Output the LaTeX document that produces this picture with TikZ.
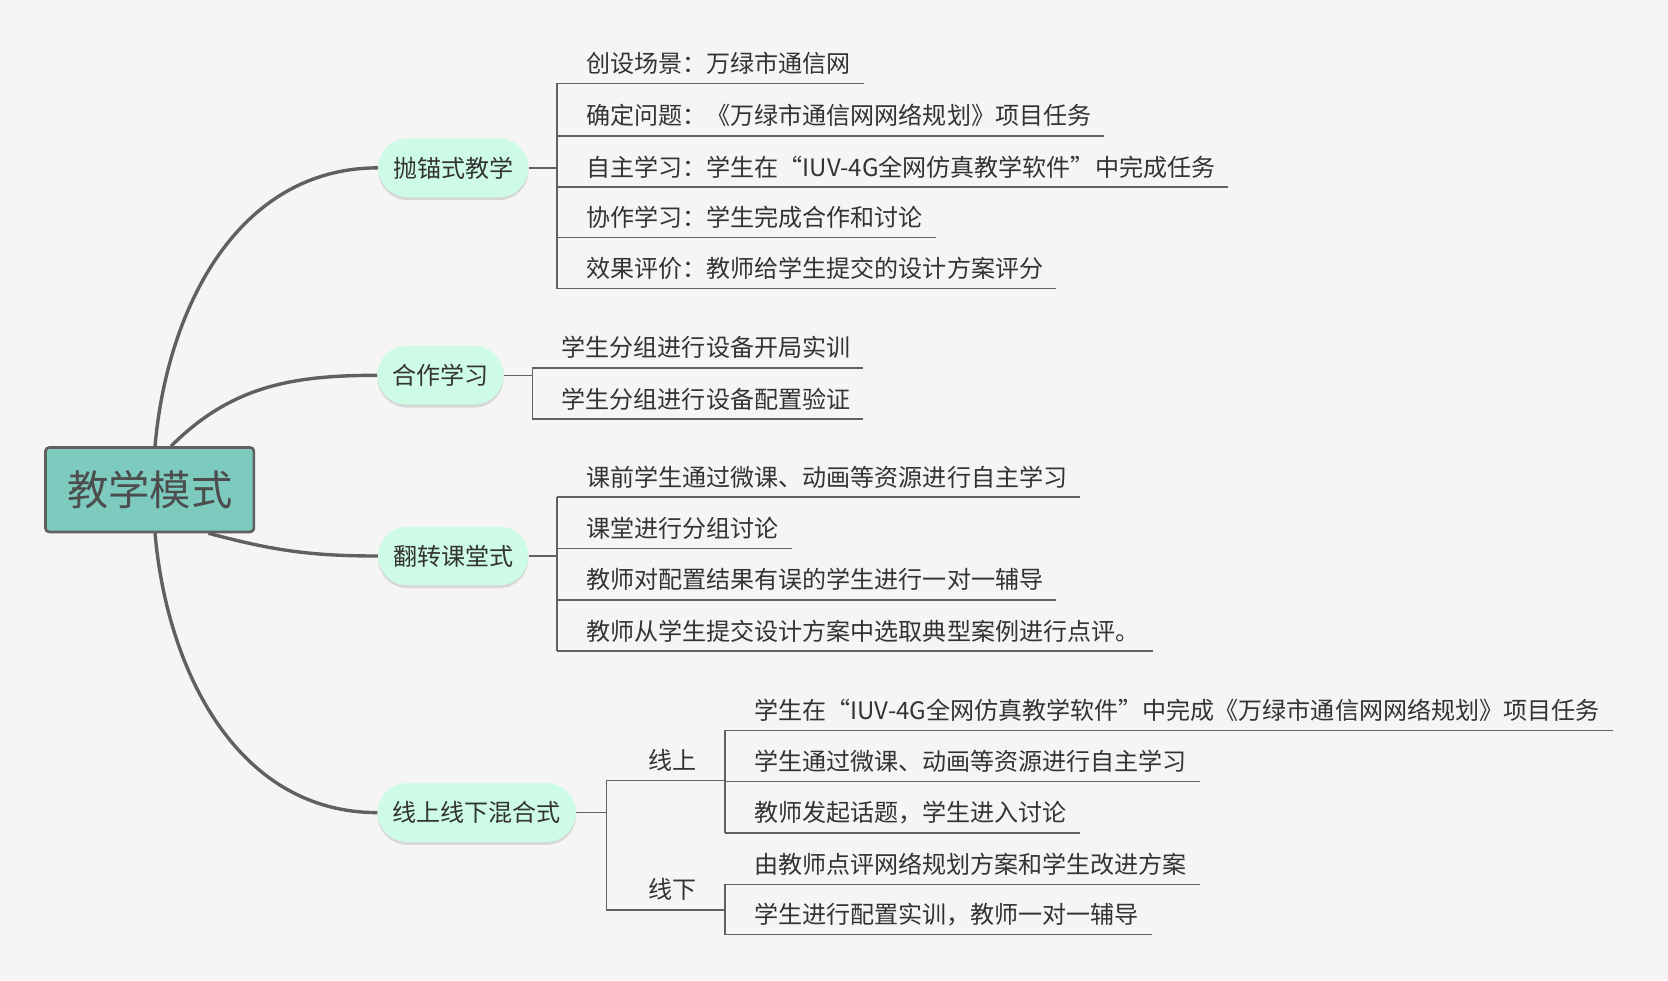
\documentclass[tikz,border=0pt]{standalone}
\usepackage{fontspec}
\setmainfont{Noto Sans CJK SC}
\usetikzlibrary{shadows}
\definecolor{bgc}{HTML}{F5F5F5}
\definecolor{linec}{HTML}{606060}
\definecolor{txtc}{HTML}{333333}
\definecolor{rootc}{HTML}{7DCBBF}
\definecolor{pillc}{HTML}{CDFBE6}
\tikzset{
  rootbox/.style={draw=linec, line width=1.4pt, fill=rootc, rounded corners=2pt,
    minimum width=3.9cm, minimum height=1.58cm, font=\fontsize{22}{26}\selectfont, text=linec!80!black},
  pill/.style={fill=pillc, rounded corners=0.55cm, minimum height=1.1cm, inner xsep=0.28cm,
    font=\fontsize{12.8}{15}\selectfont, text=txtc,
    drop shadow={shadow xshift=0pt, shadow yshift=-1.5pt, opacity=0.25, fill=gray}},
  leaf/.style={anchor=south west, inner ysep=0.13cm, inner xsep=0pt,
    text height=0.9em, text depth=0.2em, font=\fontsize{12.8}{15}\selectfont, text=txtc},
  conn/.style={draw=linec, line width=1.8pt},
  br/.style={draw=linec, line width=0.8pt, rounded corners=3pt},
}
\newcommand{\leafat}[4]{% name, x, y, text
  \node[leaf] (#1) at (#2,#3) {\hspace*{27\pxu}#4\hspace*{12\pxu}};
  \draw[br] (#1.south west) -- (#1.south east);}
\newlength{\pxu}\setlength{\pxu}{0.02cm}
\begin{document}
\begin{tikzpicture}[x=0.02cm, y=-0.02cm]
\fill[bgc] (0,0) rectangle (1560,917);
\useasboundingbox (0,0) rectangle (1560,917);

\node[rootbox] (root) at (140,458) {教学模式};
\node[pill] (a) at (424,157) {抛锚式教学};
\node[pill] (b) at (412,351) {合作学习};
\node[pill] (c) at (424,520) {翻转课堂式};
\node[pill] (d) at (446,760) {线上线下混合式};

% main branches
\draw[conn] ([xshift=5\pxu]root.north) to[out=85,in=180] (a.west);
\draw[conn] ([xshift=20\pxu]root.north) to[out=45,in=180] (b.west);
\draw[conn] ([xshift=55\pxu]root.south) to[out=-15,in=180] (c.west);
\draw[conn] ([xshift=5\pxu]root.south) to[out=-85,in=180] (d.west);

% group a
\leafat{a1}{521}{78}{创设场景：万绿市通信网}
\leafat{a2}{521}{127}{确定问题：《万绿市通信网网络规划》项目任务}
\leafat{a3}{521}{175}{自主学习：学生在“IUV-4G全网仿真教学软件”中完成任务}
\leafat{a4}{521}{222}{协作学习：学生完成合作和讨论}
\leafat{a5}{521}{270}{效果评价：教师给学生提交的设计方案评分}
\draw[br] (a1.south west) -- (a5.south west);
\draw[br] (a.east) -- (a.east -| a1.south west);

% group b
\leafat{b1}{498}{344}{学生分组进行设备开局实训}
\leafat{b2}{498}{392}{学生分组进行设备配置验证}
\draw[br] (b1.south west) -- (b2.south west);
\draw[br] (b.east) -- (b.east -| b1.south west);

% group c
\leafat{c1}{521}{465}{课前学生通过微课、动画等资源进行自主学习}
\leafat{c2}{521}{513}{课堂进行分组讨论}
\leafat{c3}{521}{561}{教师对配置结果有误的学生进行一对一辅导}
\leafat{c4}{521}{609}{教师从学生提交设计方案中选取典型案例进行点评。}
\draw[br] (c1.south west) -- (c4.south west);
\draw[br] (c.east) -- (c.east -| c1.south west);

% group d
\node[leaf, minimum width=111\pxu, align=center] (on) at (567,730) {\hspace*{12\pxu}线上};
\node[leaf, minimum width=111\pxu, align=center] (off) at (567,851) {\hspace*{12\pxu}线下};
\draw[br] (on.south west) -- (on.south east);
\draw[br] (off.south west) -- (off.south east);
\draw[br] (on.south west) -- (off.south west);
\draw[br] (d.east) -- (d.east -| on.south west);

\leafat{d1}{678}{683}{学生在“IUV-4G全网仿真教学软件”中完成《万绿市通信网网络规划》项目任务}
\leafat{d2}{678}{731}{学生通过微课、动画等资源进行自主学习}
\leafat{d3}{678}{779}{教师发起话题，学生进入讨论}
\draw[br] (d1.south west) -- (d3.south west);
\leafat{d4}{678}{827}{由教师点评网络规划方案和学生改进方案}
\leafat{d5}{678}{874}{学生进行配置实训，教师一对一辅导}
\draw[br] (d4.south west) -- (d5.south west);
\end{tikzpicture}
\end{document}
